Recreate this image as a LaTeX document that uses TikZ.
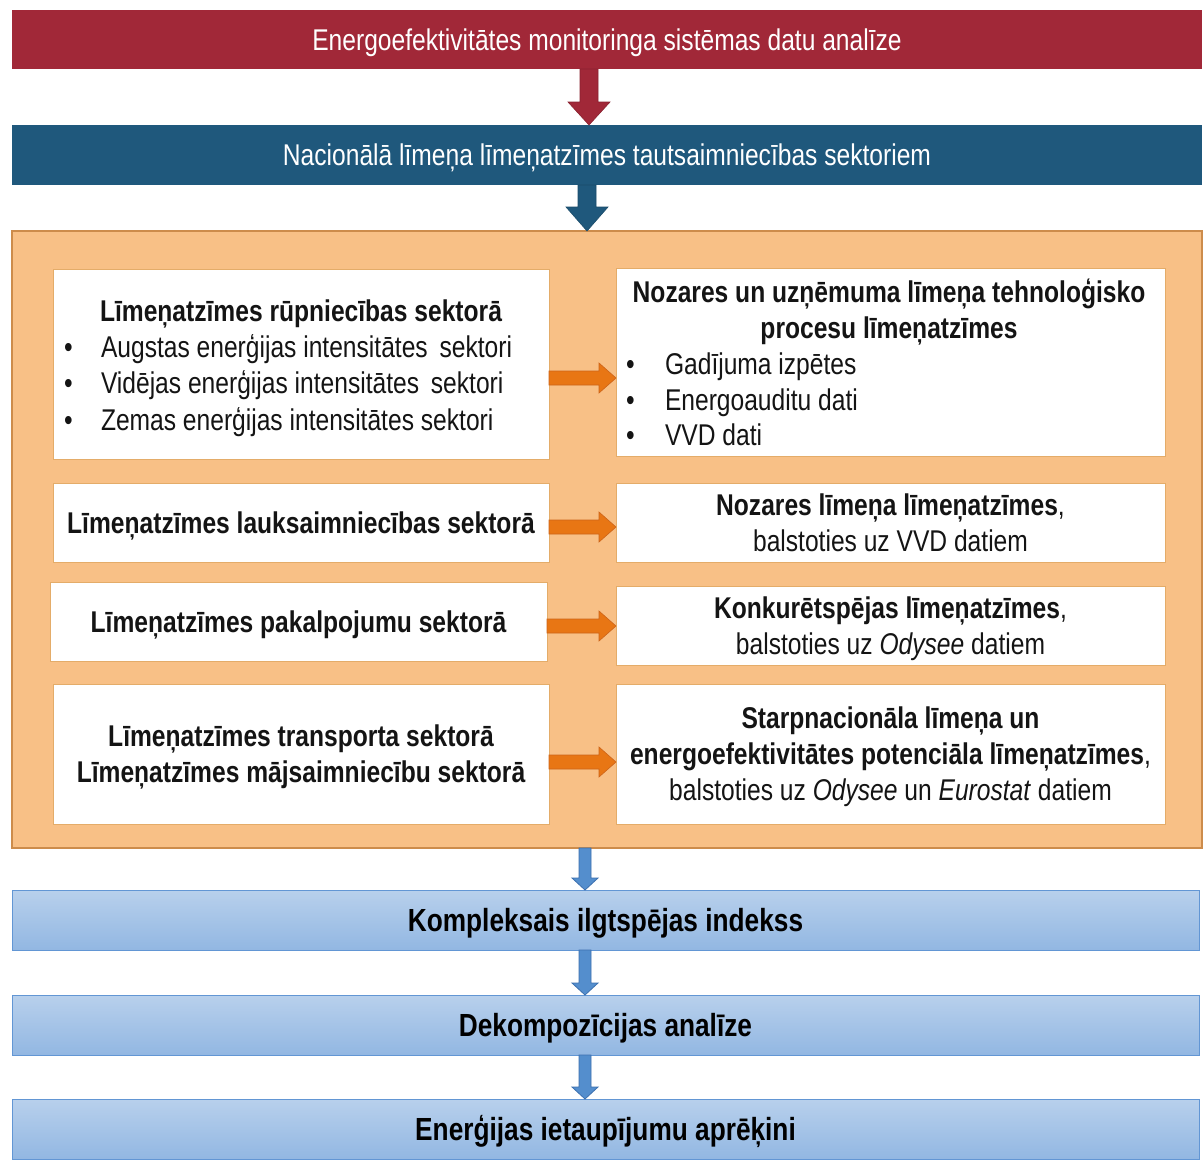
\documentclass[tikz,border=0pt]{standalone}
\usepackage{fontspec}
\setmainfont[FakeStretch=0.82]{Liberation Sans}
\usetikzlibrary{calc}
\definecolor{redbar}{RGB}{161,40,56}
\definecolor{bluebar}{RGB}{31,88,124}
\definecolor{panelfill}{RGB}{248,192,134}
\definecolor{panelborder}{RGB}{205,140,75}
\definecolor{boxborder}{RGB}{228,172,105}
\definecolor{oarrow}{RGB}{232,118,20}
\definecolor{oarrowb}{RGB}{205,100,25}
\definecolor{lbtop}{RGB}{184,208,236}
\definecolor{lbbot}{RGB}{146,183,226}
\definecolor{lbborder}{RGB}{98,150,212}
\definecolor{barrow}{RGB}{84,142,205}
\definecolor{barrowb}{RGB}{60,112,175}
\definecolor{txtc}{RGB}{20,20,20}
\newcommand\toprule{\rule{0pt}{28pt}}
\newcommand\vblock[7]{% style, x, from, to, shaft half, head half, head length
  \path[#1] let \p1=(#3.south), \p2=(#4.north) in
    (#2pt-#5pt,\y1) -- (#2pt+#5pt,\y1) -- (#2pt+#5pt,\y2+#7pt) -- (#2pt+#6pt,\y2+#7pt)
    -- (#2pt,\y2) -- (#2pt-#6pt,\y2+#7pt) -- (#2pt-#5pt,\y2+#7pt) -- cycle;}
\newcommand\hblock[7]{% style, y, from, to, shaft half, head half, head length
  \path[#1] let \p1=(#3.east), \p2=(#4.west) in
    (\x1,-#2pt+#5pt) -- (\x2-#7pt,-#2pt+#5pt) -- (\x2-#7pt,-#2pt+#6pt) -- (\x2,-#2pt)
    -- (\x2-#7pt,-#2pt-#6pt) -- (\x2-#7pt,-#2pt-#5pt) -- (\x1,-#2pt-#5pt) -- cycle;}
\tikzset{
  bar/.style={minimum width=1190pt, inner sep=0pt, outer sep=0pt, text=white,
    text height=28pt, font=\fontsize{30}{36}\selectfont},
  panel/.style={fill=panelfill, draw=panelborder, line width=1.2pt, inner sep=0pt, outer sep=0pt},
  wbox/.style={fill=white, draw=boxborder, line width=1pt, inner sep=0pt, outer sep=0pt,
    align=center, text=txtc, font=\fontsize{30}{36}\selectfont},
  single/.style={text height=28pt, font=\bfseries\fontsize{30}{36}\selectfont},
  lbar/.style={top color=lbtop, bottom color=lbbot, draw=lbborder, line width=1pt,
    minimum width=1187pt, minimum height=60pt, inner sep=0pt, outer sep=0pt,
    text=black, text height=30pt, font=\bfseries\fontsize{32}{38}\selectfont},
  line/.style={inner sep=0pt, outer sep=0pt, anchor=base, text=txtc, font=\fontsize{30}{36}\selectfont},
  bline/.style={line, font=\bfseries\fontsize{30}{36}\selectfont},
  bul/.style={line, anchor=base west},
  redarr/.style={fill=redbar, draw=redbar!85!black, line width=0.6pt},
  bluearr/.style={fill=bluebar, draw=bluebar!85!black, line width=0.6pt},
  orarr/.style={fill=oarrow, draw=oarrowb, line width=0.6pt},
  lbarr/.style={fill=barrow, draw=barrowb, line width=0.8pt},
}
\begin{document}
\begin{tikzpicture}[x=1pt,y=-1pt]
\useasboundingbox (0,0) rectangle (1204,1160);
\fill[white] (0,0) rectangle (1204,1160);
% top bars
\node[bar, fill=redbar, minimum height=59pt] (mon) at (607,39.5) {Energoefektivitātes monitoringa sistēmas datu analīze};
\node[bar, fill=bluebar, minimum height=60pt] (nat) at (607,155) {Nacionālā līmeņa līmeņatzīmes tautsaimniecības sektoriem};
% panel
\node[panel, minimum width=1190pt, minimum height=617pt] (panel) at (607,539.5) {};
% left boxes
\node[wbox, minimum width=496pt, minimum height=190pt] (L1) at (301,364) {};
\node[bline] (L1t) at (301,321) {Līmeņatzīmes rūpniecības sektorā};
\node[bul] (L1b1) at (64,357) {•};
\node[bul] (L1a) at (101,357) {Augstas enerģijas intensitātes\, sektori};
\node[bul] (L1b2) at (64,393) {•};
\node[bul] (L1b) at (101,393) {Vidējas enerģijas intensitātes\, sektori};
\node[bul] (L1b3) at (64,430) {•};
\node[bul] (L1c) at (101,430) {Zemas enerģijas intensitātes sektori};
\node[wbox, single, minimum width=496pt, minimum height=79pt] (L2) at (301,522.5) {Līmeņatzīmes lauksaimniecības sektorā};
\node[wbox, single, minimum width=497pt, minimum height=79pt] (L3) at (298.5,621.5) {Līmeņatzīmes pakalpojumu sektorā};
\node[wbox, minimum width=496pt, minimum height=140pt, font=\bfseries\fontsize{30}{36}\selectfont] (L4) at (301,754) {\toprule Līmeņatzīmes transporta sektorā\\Līmeņatzīmes mājsaimniecību sektorā};
% right boxes
\node[wbox, minimum width=549pt, minimum height=188pt] (R1) at (890.5,362) {};
\node[bline] (R1t1) at (889,302) {Nozares un uzņēmuma līmeņa tehnoloģisko};
\node[bline] (R1t2) at (889,338) {procesu līmeņatzīmes};
\node[bul] (R1b1) at (626,374) {•};
\node[bul] (R1a) at (665,374) {Gadījuma izpētes};
\node[bul] (R1b2) at (626,410) {•};
\node[bul] (R1b) at (665,410) {Energoauditu dati};
\node[bul] (R1b3) at (626,445) {•};
\node[bul] (R1c) at (665,445) {VVD dati};
\node[wbox, minimum width=549pt, minimum height=79pt] (R2) at (890.5,522.5) {\textbf{Nozares līmeņa līmeņatzīmes},\\balstoties uz VVD datiem};
\node[wbox, minimum width=549pt, minimum height=79pt] (R3) at (890.5,625.5) {\toprule\textbf{Konkurētspējas līmeņatzīmes},\\balstoties uz \textit{Odysee} datiem};
\node[wbox, minimum width=549pt, minimum height=140pt] (R4) at (890.5,754) {\toprule\textbf{Starpnacionāla līmeņa un}\\\textbf{energoefektivitātes potenciāla līmeņatzīmes},\\balstoties uz \textit{Odysee} un \textit{Eurostat} datiem};
% bottom bars
\node[lbar] (K) at (605.5,920) {Kompleksais ilgtspējas indekss};
\node[lbar] (D) at (605.5,1025) {Dekompozīcijas analīze};
\node[lbar] (E) at (605.5,1129) {Enerģijas ietaupījumu aprēķini};
% arrows
\vblock{redarr}{589}{mon}{nat}{9}{21}{23}
\vblock{bluearr}{587}{nat}{panel}{9}{21}{24}
\hblock{orarr}{378}{L1}{R1}{7}{15}{17}
\hblock{orarr}{527}{L2}{R2}{7}{15}{17}
\hblock{orarr}{626}{L3}{R3}{7}{15}{17}
\hblock{orarr}{762}{L4}{R4}{7}{15}{17}
\vblock{lbarr}{585}{panel}{K}{6}{13}{12}
\vblock{lbarr}{585}{K}{D}{6}{13}{12}
\vblock{lbarr}{585}{D}{E}{6}{13}{12}
\end{tikzpicture}
\end{document}
